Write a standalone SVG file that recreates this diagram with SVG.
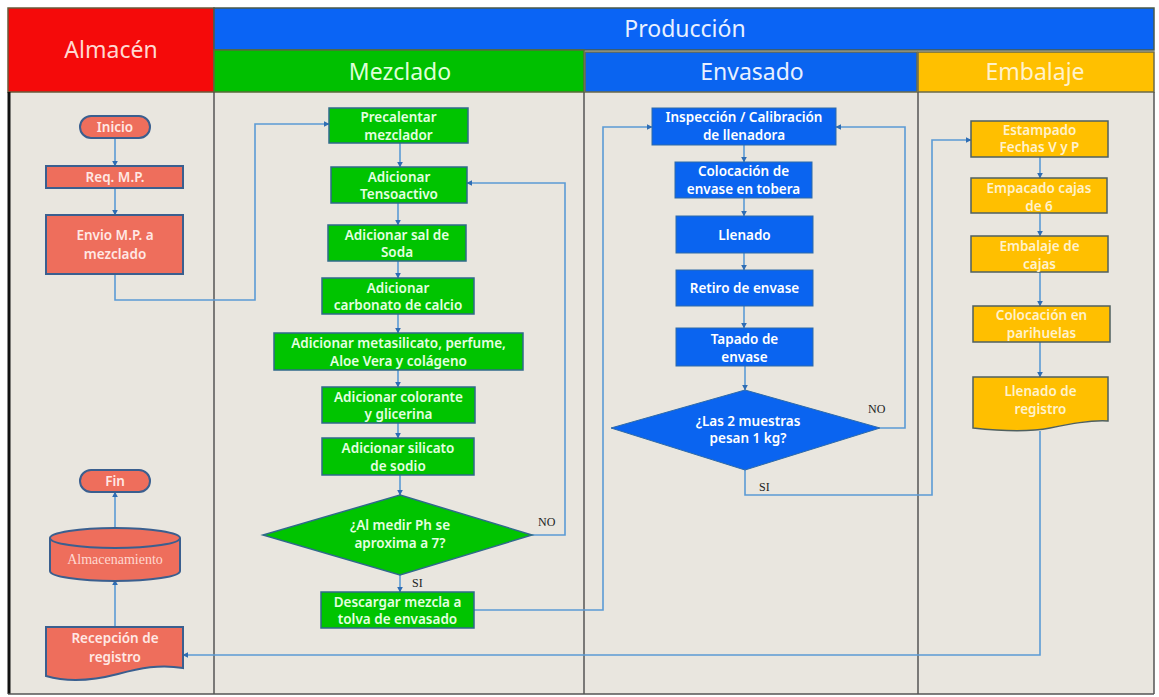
<svg xmlns="http://www.w3.org/2000/svg" width="1159" height="697" viewBox="0 0 1159 697">
<style>
.hdr{font-family:"Noto Sans","DejaVu Sans",sans-serif;font-size:23px;text-anchor:middle}
.t{font-family:"Noto Sans","DejaVu Sans",sans-serif;font-size:13.5px;font-weight:600;text-anchor:middle}
.red{fill:#EE6E5C;stroke:#3A5F8F;stroke-width:2}
.grn{fill:#00C400;stroke:#2F6A8A;stroke-width:1.5}
.blu{fill:#0A64F0;stroke:#2E6AA8;stroke-width:1}
.org{fill:#FFBF00;stroke:#4F6060;stroke-width:1.5}
.tw{fill:#FFFFFF}
.tg{fill:#E4FFE0}
.to{fill:#FFF2CC}
.tr{fill:#FFE8E4}
.lab{font-family:"Liberation Serif",serif;font-size:12px;fill:#222}
.c{fill:none;stroke:#5B9BD5;stroke-width:1.6}
.lane{stroke:#555;stroke-width:1.5}
</style>
<defs>
<marker id="ah" viewBox="0 0 10 10" refX="9" refY="5" markerWidth="6" markerHeight="6" orient="auto" markerUnits="userSpaceOnUse">
<path d="M0,0 L10,5 L0,10 z" fill="#2E6DB4"/>
</marker>
</defs>
<rect x="0" y="0" width="1159" height="697" fill="#FFFFFF"/>
<rect x="8" y="92" width="1146" height="602" fill="#E9E6DF"/>
<g id="headers">
<rect x="8" y="8" width="206" height="84" fill="#F50A0A" stroke="#6A5A3A" stroke-width="1.5"/>
<text class="hdr" x="111" y="58" fill="#FFD8D0">Almacén</text>
<rect x="214" y="8" width="940" height="42" fill="#0A64F5" stroke="#4A5A4A" stroke-width="1.5"/>
<text class="hdr" x="685" y="37" fill="#E8F0FF">Producción</text>
<rect x="214" y="50" width="370" height="42" fill="#00C000" stroke="#5A6A3A" stroke-width="1.5"/>
<text class="hdr" x="400" y="80" fill="#DFFFD8">Mezclado</text>
<rect x="585" y="52" width="332" height="40" fill="#0A64F0" stroke="#6A6A4A" stroke-width="1.5"/>
<text class="hdr" x="752" y="80" fill="#E8F0FF">Envasado</text>
<rect x="918" y="52" width="236" height="40" fill="#FFC000" stroke="#6A6A4A" stroke-width="1.5"/>
<text class="hdr" x="1035" y="80" fill="#FFF2CC">Embalaje</text>
</g>
<g id="lanes">
<line class="lane" x1="214" y1="92" x2="214" y2="694"/>
<line class="lane" x1="584" y1="92" x2="584" y2="694"/>
<line class="lane" x1="918" y1="92" x2="918" y2="694"/>
<line x1="9" y1="92" x2="9" y2="694" stroke="#111" stroke-width="3"/>
<line class="lane" x1="1154" y1="92" x2="1154" y2="694"/>
<line class="lane" x1="8" y1="694" x2="1154" y2="694"/>
</g>
<g id="connectors">
<path class="c" d="M115,138 V166" marker-end="url(#ah)"/>
<path class="c" d="M115,188 V215" marker-end="url(#ah)"/>
<path class="c" d="M115,274 V300 H255 V124 H329" marker-end="url(#ah)"/>
<path class="c" d="M400,143 V167" marker-end="url(#ah)"/>
<path class="c" d="M398,203 V225" marker-end="url(#ah)"/>
<path class="c" d="M398,261 V278" marker-end="url(#ah)"/>
<path class="c" d="M398,314 V333" marker-end="url(#ah)"/>
<path class="c" d="M398,370 V387" marker-end="url(#ah)"/>
<path class="c" d="M398,423 V438" marker-end="url(#ah)"/>
<path class="c" d="M400,475 V495" marker-end="url(#ah)"/>
<path class="c" d="M532,535 H565 V183 H467" marker-end="url(#ah)"/>
<path class="c" d="M400,575 V592" marker-end="url(#ah)"/>
<path class="c" d="M474,610 H603 V127 H652" marker-end="url(#ah)"/>
<path class="c" d="M744,145 V162" marker-end="url(#ah)"/>
<path class="c" d="M744,198 V216" marker-end="url(#ah)"/>
<path class="c" d="M744,253 V270" marker-end="url(#ah)"/>
<path class="c" d="M744,306 V328" marker-end="url(#ah)"/>
<path class="c" d="M745,366 V390" marker-end="url(#ah)"/>
<path class="c" d="M880,428 H905 V127 H836" marker-end="url(#ah)"/>
<path class="c" d="M745,470 V495 H932 V140 H971" marker-end="url(#ah)"/>
<path class="c" d="M1040,157 V178" marker-end="url(#ah)"/>
<path class="c" d="M1040,213 V236" marker-end="url(#ah)"/>
<path class="c" d="M1040,272 V306" marker-end="url(#ah)"/>
<path class="c" d="M1040,342 V377" marker-end="url(#ah)"/>
<path class="c" d="M1040,431 V655 H183" marker-end="url(#ah)"/>
<path class="c" d="M115,627 V580" marker-end="url(#ah)"/>
<path class="c" d="M115,528 V492" marker-end="url(#ah)"/>
<text class="lab" x="538" y="526">NO</text>
<text class="lab" x="412" y="587">SI</text>
<text class="lab" x="868" y="413">NO</text>
<text class="lab" x="759" y="491">SI</text>
</g>
<g id="inicio"><rect class="red" x="80" y="116" width="70" height="22" rx="11"/><text class="t tr" x="115" y="132">Inicio</text></g>
<g id="req"><rect class="red" x="46" y="166" width="137" height="22"/><text class="t tr" x="115" y="182">Req. M.P.</text></g>
<g id="envio"><rect class="red" x="46" y="215" width="137" height="59"/><text class="t tr" x="115" y="240">Envio M.P.  a</text><text class="t tr" x="115" y="259">mezclado</text></g>
<g id="fin"><rect class="red" x="80" y="470" width="70" height="22" rx="11"/><text class="t tr" x="115" y="486">Fin</text></g>
<g id="almacenamiento"><path class="red" d="M50,538 A65,10 0 0,1 180,538 V571 A65,10 0 0,1 50,571 Z"/><path d="M50,538 A65,10 0 0,0 180,538" fill="none" stroke="#3A5F8F" stroke-width="2"/><text x="115" y="564" font-family="Liberation Serif,serif" font-size="14" fill="#FFD8D0" text-anchor="middle">Almacenamiento</text></g>
<g id="recepcion"><path class="red" d="M46,627 H183 V668 C160,664 140,668 118,674 C95,680 70,683 46,676 Z"/><text class="t tr" x="115" y="643">Recepción de</text><text class="t tr" x="115" y="662">registro</text></g>
<g id="precalentar"><rect class="grn" x="329" y="108" width="139" height="35"/><text class="t tg" x="398.5" y="122">Precalentar</text><text class="t tg" x="398.5" y="139.5">mezclador</text></g>
<g id="tensoactivo"><rect class="grn" x="331" y="167" width="136" height="36"/><text class="t tg" x="399" y="181.5">Adicionar</text><text class="t tg" x="399" y="199">Tensoactivo</text></g>
<g id="soda"><rect class="grn" x="328" y="225" width="138" height="36"/><text class="t tg" x="397" y="239.5">Adicionar sal de</text><text class="t tg" x="397" y="257">Soda</text></g>
<g id="carbonato"><rect class="grn" x="322" y="278" width="152" height="36"/><text class="t tg" x="398" y="292.5">Adicionar</text><text class="t tg" x="398" y="310">carbonato de calcio</text></g>
<g id="metasilicato"><rect class="grn" x="274" y="333" width="249" height="37"/><text class="t tg" x="398.5" y="348">Adicionar metasilicato, perfume,</text><text class="t tg" x="398.5" y="366">Aloe Vera y colágeno</text></g>
<g id="colorante"><rect class="grn" x="322" y="387" width="153" height="36"/><text class="t tg" x="398.5" y="401.5">Adicionar colorante</text><text class="t tg" x="398.5" y="419">y glicerina</text></g>
<g id="silicato"><rect class="grn" x="322" y="438" width="152" height="37"/><text class="t tg" x="398" y="453">Adicionar silicato</text><text class="t tg" x="398" y="471">de sodio</text></g>
<g id="decision-ph"><polygon class="grn" points="400,495 532,535 400,575 263,535"/><text class="t tg" x="400" y="530">¿Al medir  Ph se</text><text class="t tg" x="400" y="548">aproxima a 7?</text></g>
<g id="descargar"><rect class="grn" x="321" y="592" width="153" height="36"/><text class="t tg" x="397.5" y="606.5">Descargar mezcla a</text><text class="t tg" x="397.5" y="624">tolva de envasado</text></g>
<g id="inspeccion"><rect class="blu" x="652" y="108" width="184" height="37"/><text class="t tw" x="744" y="122">Inspección / Calibración</text><text class="t tw" x="744" y="140">de llenadora</text></g>
<g id="colocacion"><rect class="blu" x="675" y="162" width="137" height="36"/><text class="t tw" x="743.5" y="176">Colocación de</text><text class="t tw" x="743.5" y="194">envase en tobera</text></g>
<g id="llenado"><rect class="blu" x="676" y="216" width="137" height="37"/><text class="t tw" x="744.5" y="239.5">Llenado</text></g>
<g id="retiro"><rect class="blu" x="676" y="270" width="137" height="36"/><text class="t tw" x="744.5" y="293">Retiro de envase</text></g>
<g id="tapado"><rect class="blu" x="676" y="328" width="137" height="38"/><text class="t tw" x="744.5" y="343.5">Tapado de</text><text class="t tw" x="744.5" y="361.5">envase</text></g>
<g id="decision-peso"><polygon class="blu" points="745,390 880,428 745,470 611,428"/><text class="t tw" x="748" y="426">¿Las 2 muestras</text><text class="t tw" x="748" y="443">pesan 1 kg?</text></g>
<g id="estampado"><rect class="org" x="971" y="121" width="137" height="36"/><text class="t to" x="1039.5" y="135">Estampado</text><text class="t to" x="1039.5" y="152">Fechas V y P</text></g>
<g id="empacado"><rect class="org" x="971" y="178" width="136" height="35"/><text class="t to" x="1039" y="193">Empacado cajas</text><text class="t to" x="1039" y="210.5">de 6</text></g>
<g id="embalaje"><rect class="org" x="971" y="236" width="137" height="36"/><text class="t to" x="1039.5" y="251">Embalaje de</text><text class="t to" x="1039.5" y="268.5">cajas</text></g>
<g id="parihuelas"><rect class="org" x="973" y="306" width="137" height="36"/><text class="t to" x="1041.5" y="320">Colocación en</text><text class="t to" x="1041.5" y="338">parihuelas</text></g>
<g id="llenado-registro"><path class="org" d="M973,377 H1108 V421 C1090,420 1070,424 1050,428 C1030,432 1000,431 973,428 Z"/><text class="t to" x="1040.5" y="396">Llenado de</text><text class="t to" x="1040.5" y="414">registro</text></g>
</svg>
